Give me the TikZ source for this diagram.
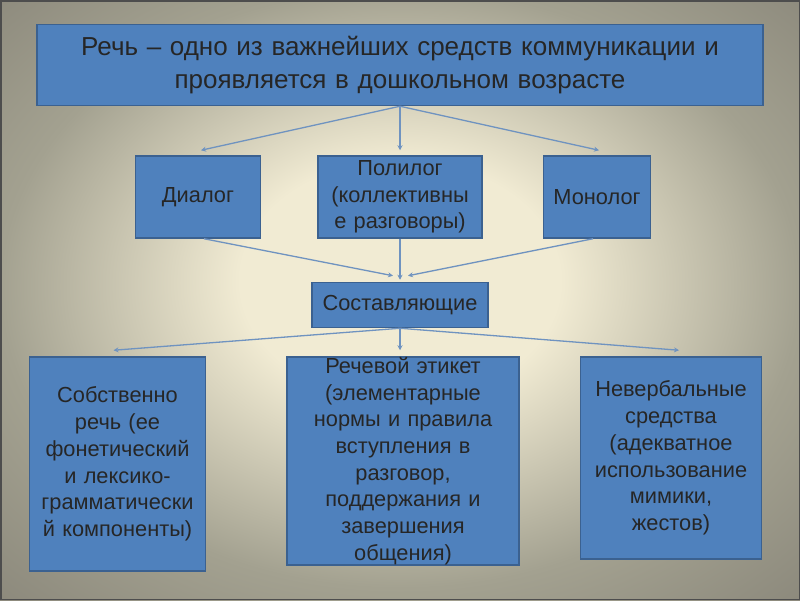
\documentclass[tikz,border=0pt]{standalone}
\usepackage{fontspec}
\setmainfont{Liberation Sans}
\usetikzlibrary{positioning,arrows.meta}
\definecolor{boxfill}{HTML}{4F81BD}
\definecolor{boxline}{HTML}{3B6190}
\definecolor{arrline}{HTML}{6F93C0}
\definecolor{txt}{HTML}{262626}
\definecolor{frame}{HTML}{4D4D4D}
\definecolor{bgin}{HTML}{F1EBD3}
\definecolor{bgmid}{HTML}{A3A190}
\definecolor{bgout}{HTML}{8C897C}
\pgfdeclareradialshading{bgshade}{\pgfpoint{0bp}{2bp}}{color(0bp)=(bgin); color(10bp)=(bgin); color(25bp)=(bgmid); color(36bp)=(bgout); color(50bp)=(bgout)}

\begin{document}
\begin{tikzpicture}[x=1pt, y=-1pt,
    box/.style={draw=boxline, line width=1.5pt, fill=boxfill, text=txt, inner sep=0pt, align=center, font=\fontsize{21.8}{26.7}\selectfont},
    link/.style={draw=arrline, line width=1.3pt, -{Stealth[length=5pt,width=5pt]}}]
    \useasboundingbox (0,0) rectangle (800,600);
    \shade[shading=bgshade] (0,0) rectangle (800,600);
    \draw[frame, line width=1.5pt] (0.75,0.75) rectangle (799.25,599.25);

    \node[box, text width=726pt, minimum height=81pt, font=\fontsize{26}{33}\selectfont] (rech) at (400,65) {Речь – одно из важнейших средств коммуникации и\\проявляется в дошкольном возрасте};
    \node[box, text width=164pt, minimum height=82pt] (polilog) [below=49pt of rech] {Полилог\\(коллективны\\е разговоры)};
    \node[box, text width=125pt, minimum height=82pt] (dialog) [left=56pt of polilog] {Диалог};
    \node[box, text width=107pt, minimum height=82pt] (monolog) [right=60pt of polilog] {Монолог};
    \node[box, text width=176pt, minimum height=45pt] (sost) [below=43pt of polilog] {Составляющие};
    \node[box, text width=232pt, minimum height=208pt] (etiket) [below=28pt of sost, xshift=3pt] {Речевой этикет\\(элементарные\\нормы и правила\\вступления в\\разговор,\\поддержания и\\завершения\\общения)};
    \node[box, text width=176pt, minimum height=214pt] (sob) [left=80pt of etiket.north west, anchor=north east] {Собственно\\речь (ее\\фонетический\\и лексико-\\грамматически\\й компоненты)};
    \node[box, text width=181pt, minimum height=202pt] (neverb) [right=60pt of etiket.north east, anchor=north west] {Невербальные\\средства\\(адекватное\\использование\\мимики,\\жестов)};

    \draw[link] (rech.south) -- ([xshift=3pt,yshift=5pt]dialog.north);
    \draw[link] (rech.south) -- ([yshift=5pt]polilog.north);
    \draw[link] (rech.south) -- ([xshift=2pt,yshift=5pt]monolog.north);
    \draw[link] ([xshift=6pt]dialog.south) -- ([xshift=-7pt,yshift=6pt]sost.north);
    \draw[link] (polilog.south) -- ([yshift=2pt]sost.north);
    \draw[link] ([xshift=-4pt]monolog.south) -- ([xshift=8pt,yshift=6pt]sost.north);
    \draw[link] (sost.south) -- ([xshift=-4pt,yshift=6pt]sob.north);
    \draw[link] (sost.south) -- ([yshift=6pt]etiket.north -| sost.south);
    \draw[link] (sost.south) -- ([xshift=8pt,yshift=6pt]neverb.north);
\end{tikzpicture}
\end{document}
